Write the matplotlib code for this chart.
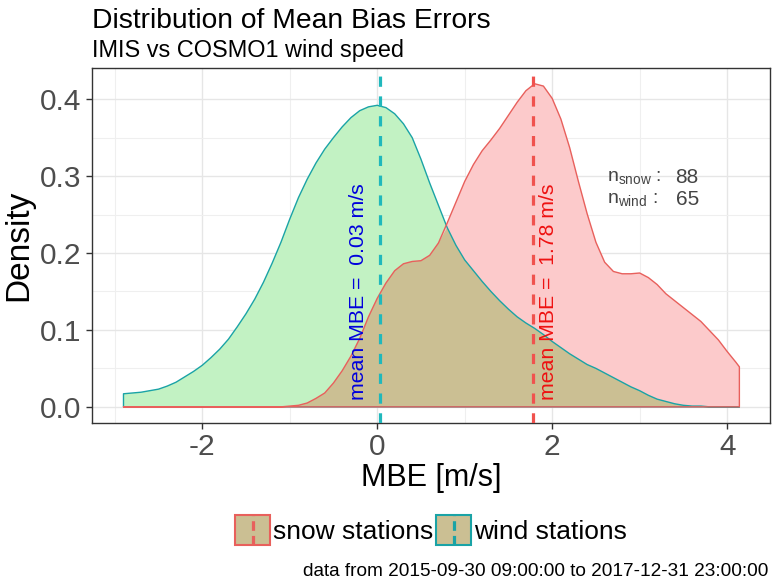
import matplotlib
matplotlib.use('Agg')
import matplotlib.pyplot as plt
from matplotlib.patches import Rectangle
from matplotlib.lines import Line2D
from matplotlib.legend_handler import HandlerBase
import numpy as np

plt.rcParams['font.family'] = ['Liberation Sans', 'DejaVu Sans']
plt.rcParams['mathtext.fontset'] = 'custom'
plt.rcParams['mathtext.rm'] = 'Liberation Sans'
plt.rcParams['axes.unicode_minus'] = False

# ---------------- data ----------------
mbe = [-2.9, -2.8, -2.7, -2.6, -2.5, -2.4, -2.3, -2.2, -2.1, -2.0,
       -1.9, -1.8, -1.7, -1.6, -1.5, -1.4, -1.3, -1.2, -1.1, -1.0,
       -0.9, -0.8, -0.7, -0.6, -0.5, -0.4, -0.3, -0.2, -0.1, 0.0,
       0.1, 0.2, 0.3, 0.4, 0.5, 0.6, 0.7, 0.8, 0.9, 1.0,
       1.1, 1.2, 1.3, 1.4, 1.5, 1.6, 1.7, 1.8, 1.9, 2.0,
       2.1, 2.2, 2.3, 2.4, 2.5, 2.6, 2.7, 2.8, 2.9, 3.0,
       3.1, 3.2, 3.3, 3.4, 3.5, 3.6, 3.7, 3.8, 3.9, 4.0,
       4.1, 4.14]

density_wind = [0.017, 0.018, 0.019, 0.021, 0.023, 0.027, 0.032, 0.039, 0.046, 0.054,
                0.064, 0.075, 0.088, 0.104, 0.121, 0.140, 0.162, 0.187, 0.214, 0.244,
                0.272, 0.296, 0.317, 0.335, 0.350, 0.364, 0.376, 0.385, 0.390, 0.392,
                0.389, 0.381, 0.368, 0.350, 0.322, 0.291, 0.262, 0.233, 0.210, 0.191,
                0.177, 0.163, 0.150, 0.138, 0.127, 0.117, 0.109, 0.102, 0.094, 0.085,
                0.077, 0.069, 0.062, 0.055, 0.050, 0.044, 0.038, 0.032, 0.026, 0.021,
                0.015, 0.010, 0.007, 0.004, 0.002, 0.001, 0.001, 0.000, 0.000, 0.000,
                0.000, 0.000]

density_snow = [0.0, 0.0, 0.0, 0.0, 0.0, 0.0, 0.0, 0.0, 0.0, 0.0,
                0.0, 0.0, 0.0, 0.0, 0.0, 0.0, 0.0, 0.0, 0.0, 0.001,
                0.002, 0.005, 0.011, 0.018, 0.031, 0.047, 0.066, 0.089, 0.117, 0.141,
                0.161, 0.177, 0.186, 0.189, 0.190, 0.197, 0.213, 0.239, 0.266, 0.293,
                0.315, 0.333, 0.347, 0.362, 0.379, 0.396, 0.411, 0.420, 0.417, 0.401,
                0.374, 0.337, 0.293, 0.251, 0.214, 0.188, 0.176, 0.173, 0.173, 0.174,
                0.168, 0.159, 0.147, 0.138, 0.129, 0.120, 0.111, 0.099, 0.087, 0.072,
                0.058, 0.052]

mean_wind = 0.03
mean_snow = 1.78
n_snow = 88
n_wind = 65
groups = ['snow stations', 'wind stations']
x_ticks = [-2, 0, 2, 4]
y_ticks = [0.0, 0.1, 0.2, 0.3, 0.4]

# ---------------- styles ----------------
c_green = '#C2F2C3'
c_pink = '#FCCACB'
c_tan = '#CBBF93'
c_wind_line = '#1AA3A6'
c_snow_line = '#E8605C'
c_wind_dash = '#20B8BC'
c_snow_dash = '#F0524E'

x = np.array(mbe)
dw = np.array(density_wind)
ds = np.array(density_snow)

fig = plt.figure(figsize=(7.72, 5.88), dpi=100)
ax = fig.add_axes([92 / 772, 1 - 423 / 588, (770 - 92) / 772, (423 - 68) / 588])

ax.fill_between(x, 0, dw, facecolor=c_green, edgecolor='none', zorder=2)
ax.fill_between(x, 0, ds, facecolor=c_pink, edgecolor='none', zorder=2)
ax.fill_between(x, 0, np.minimum(dw, ds), facecolor=c_tan, edgecolor='none', zorder=3)
ax.fill_between(x, 0, dw, facecolor='none', edgecolor=c_wind_line, lw=1.0, zorder=4)
ax.fill_between(x, 0, ds, facecolor='none', edgecolor=c_snow_line, lw=1.0, zorder=4)

ax.axvline(mean_wind, color=c_wind_dash, lw=2.3, dashes=(3.2, 3.0), zorder=5)
ax.axvline(mean_snow, color=c_snow_dash, lw=2.3, dashes=(3.2, 3.0), zorder=5)

ax.text(-0.21, 0.009, 'mean MBE =  %.2f m/s' % mean_wind, rotation=90,
        ha='center', va='bottom', color='#0000DD', fontsize=15.3, zorder=6)
ax.text(1.96, 0.009, 'mean MBE =  %.2f m/s' % mean_snow, rotation=90,
        ha='center', va='bottom', color='#EE1111', fontsize=15.3, zorder=6)

ax.text(2.63, 0.298, r'n$\mathregular{_{snow}}$ :', ha='left', va='center',
        fontsize=14, color='#444444', zorder=6)
ax.text(3.41, 0.298, '%d' % n_snow, ha='left', va='center',
        fontsize=15, color='#444444', zorder=6)
ax.text(2.63, 0.270, r'n$\mathregular{_{wind}}$ :', ha='left', va='center',
        fontsize=14, color='#444444', zorder=6)
ax.text(3.41, 0.270, '%d' % n_wind, ha='left', va='center',
        fontsize=15, color='#444444', zorder=6)

ax.set_xlim(-3.26, 4.49)
ax.set_ylim(-0.021, 0.4405)
ax.set_xticks(x_ticks)
ax.set_xticklabels([str(v) for v in x_ticks])
ax.set_yticks(y_ticks)
ax.set_yticklabels(['%.1f' % v for v in y_ticks])
ax.set_xticks([-3, -1, 1, 3], minor=True)
ax.set_yticks([0.05, 0.15, 0.25, 0.35], minor=True)
ax.grid(which='major', color='#E6E6E6', lw=1.0)
ax.grid(which='minor', color='#EFEFEF', lw=0.8)
ax.set_axisbelow(True)
ax.tick_params(which='major', labelsize=21.5, labelcolor='#4D4D4D', color='#333333',
               length=4, width=1)
ax.tick_params(axis='x', which='major', pad=3.0)
ax.tick_params(which='minor', length=0)
for s in ax.spines.values():
    s.set_color('#333333')
    s.set_linewidth(1.0)

ax.set_xlabel('MBE [m/s]', fontsize=22, labelpad=1.5)
ax.set_ylabel('Density', fontsize=24, labelpad=4.5)

fig.text(92 / 772, 1 - 28 / 588, 'Distribution of Mean Bias Errors', ha='left',
         va='baseline', fontsize=20.3)
fig.text(92 / 772, 1 - 57 / 588, 'IMIS vs COSMO1 wind speed', ha='left',
         va='baseline', fontsize=16.9)


class KeyHandler(HandlerBase):
    def create_artists(self, legend, orig_handle, xdescent, ydescent, width,
                       height, fontsize, trans):
        col = orig_handle.get_color()
        r = Rectangle((-xdescent, -ydescent), width, height, facecolor=c_tan,
                      edgecolor=col, lw=1.5, transform=trans)
        ln = Line2D([-xdescent + width / 2] * 2, [-ydescent, -ydescent + height],
                    color=col, lw=2.3, dashes=(3.0, 1.6), transform=trans)
        return [r, ln]


handles = [Line2D([], [], color=c_snow_line), Line2D([], [], color=c_wind_line)]
fig.legend(handles, groups, handler_map={Line2D: KeyHandler()}, loc='center',
           bbox_to_anchor=(431 / 772, 1 - 530 / 588), ncol=2, frameon=False,
           fontsize=19, handlelength=1.33, handleheight=1.4, handletextpad=0.1,
           columnspacing=0.1)

fig.text(768 / 772, 1 - 572 / 588,
         'data from 2015-09-30 09:00:00 to 2017-12-31 23:00:00',
         ha='right', va='center', fontsize=13.7)

fig.savefig('out.png', dpi=100)
